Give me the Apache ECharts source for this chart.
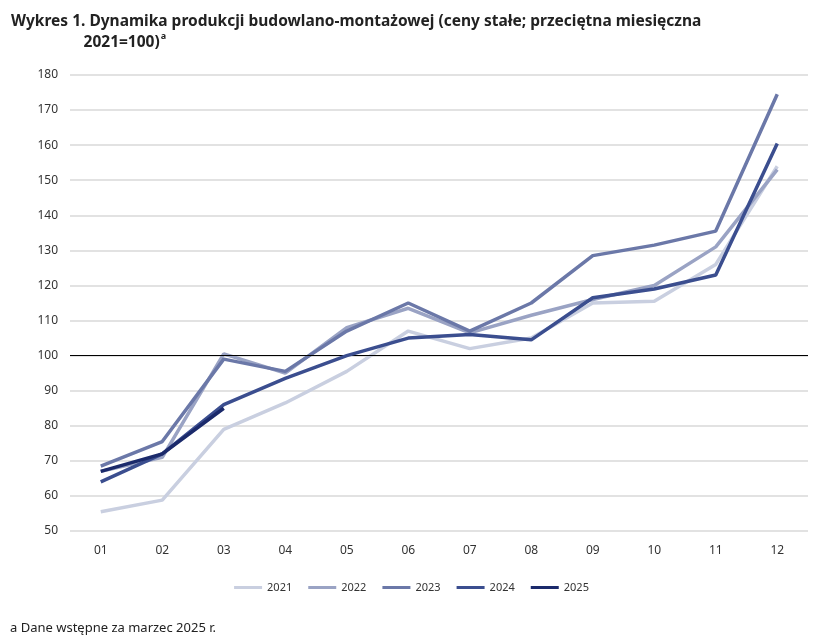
<!DOCTYPE html><html><head><meta charset="utf-8">
<script src="https://cdn.jsdelivr.net/npm/echarts@6/dist/echarts.min.js"></script>
<style>body{margin:0;background:#fff}#c{width:823px;height:638px}</style></head><body><div id="c"></div>
<script>
const categories=['01','02','03','04','05','06','07','08','09','10','11','12'];
const y2021=[55.5,58.8,79,86.5,95.5,107,102,105,115,115.5,126,154];
const y2022=[67,71,100.5,95,108,113.5,106.5,111.5,116,120,131,153];
const y2023=[68.5,75.5,99,95.5,107,115,107,115,128.5,131.5,135.5,174.5];
const y2024=[64,72,86,93.5,100,105,106,104.5,116.5,119,123,160.5];
const y2025=[67,72,85];
const names=['2021','2022','2023','2024','2025'];
const colors=['#c9cfe0','#9aa3c4','#6b78a8','#3b4e8f','#1b2a6b'];
const data=[y2021,y2022,y2023,y2024,y2025];
const ch=echarts.init(document.getElementById('c'));
const series=names.map((n,i)=>({name:n,type:'line',data:data[i],symbol:'none',color:colors[i],lineStyle:{width:3.5,color:colors[i]},z:2+i}));
series[0].markLine={silent:true,symbol:'none',label:{show:false},lineStyle:{color:'#000',width:1.2,type:'solid'},data:[{yAxis:100}]};
ch.setOption({
 animation:false,
 title:[{text:'{t|Wykres 1. Dynamika produkcji budowlano-montażowej (ceny stałe; przeciętna miesięczna}\n{t|                  2021=100)}{s|a}',left:6,top:6,textStyle:{rich:{t:{fontFamily:'Noto Sans',fontSize:15.5,fontWeight:'bold',color:'#222',lineHeight:21},s:{fontFamily:'Noto Sans',fontSize:9,color:'#222',verticalAlign:'top',lineHeight:21,padding:[0,0,8,1]}}}},
  {text:'a Dane wstępne za marzec 2025 r.',left:5,top:617,textStyle:{fontFamily:'Noto Sans',fontSize:13,fontWeight:'normal',color:'#222'}}],
 grid:{left:70,right:15,top:75,bottom:107},
 legend:{bottom:40,left:'center',itemWidth:28,itemHeight:3,icon:'rect',itemGap:16,textStyle:{fontFamily:'Noto Sans',fontSize:11,color:'#333'}},
 xAxis:{type:'category',data:categories,boundaryGap:true,axisLine:{show:false},axisTick:{show:false},axisLabel:{fontFamily:'Noto Sans',fontSize:12,color:'#333',margin:14}},
 yAxis:{type:'value',min:50,max:180,interval:10,axisLine:{show:false},axisTick:{show:false},axisLabel:{fontFamily:'Noto Sans',fontSize:12,color:'#333',margin:12},splitLine:{lineStyle:{color:'#d9d9d9',width:1.5}}},
 series
});
</script></body></html>
